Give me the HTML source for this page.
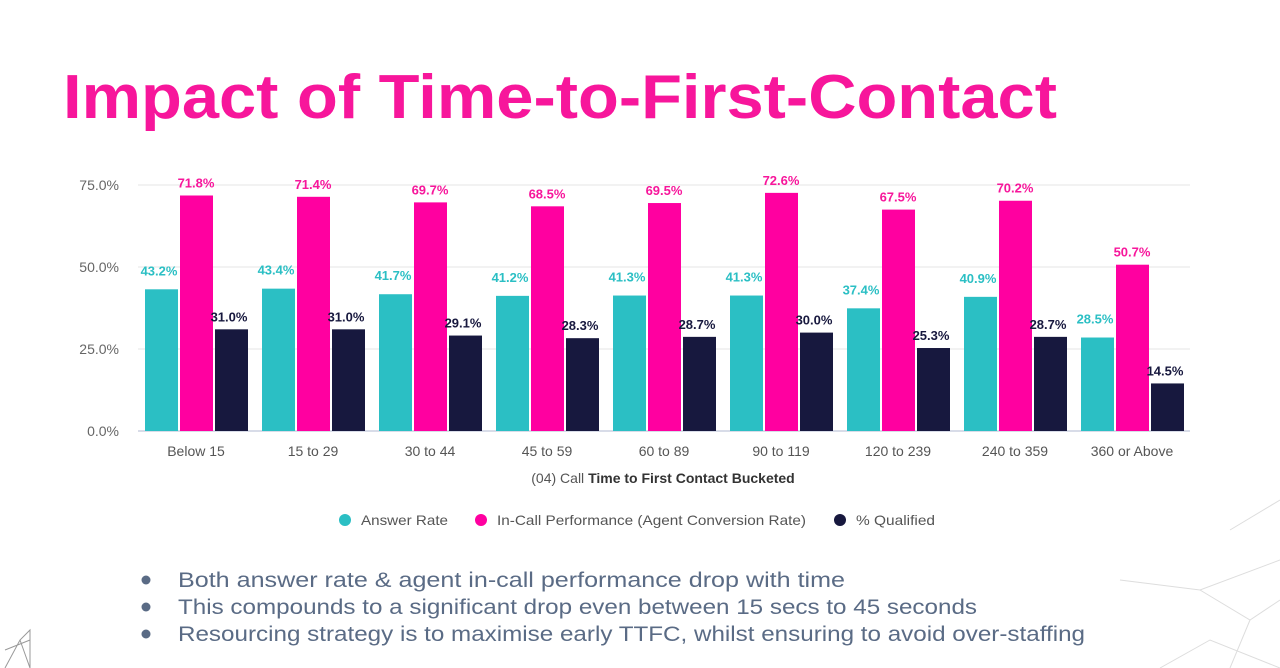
<!DOCTYPE html>
<html><head><meta charset="utf-8"><style>
html,body{margin:0;padding:0;background:#fff;}
svg{display:block;font-family:"Liberation Sans",sans-serif;}
</style></head><body>
<svg id="c" width="1280" height="668" viewBox="0 0 1280 668">
<g stroke="#ddd" fill="none" stroke-width="1">
<path d="M1120 580 L1200 590 L1280 560 M1200 590 L1250 620 L1280 600 M1160 668 L1210 640 L1280 668 M1250 620 L1230 668 M1230 530 L1280 500"/>
<path d="M5 668 L20 640 L30 630 L30 668 M20 640 L30 668 M5 650 L30 640" stroke="#999"/>
</g>
<text x="63" y="118" fill="#f7169b" font-size="62" font-weight="bold" textLength="994" lengthAdjust="spacingAndGlyphs">Impact of Time-to-First-Contact</text>
<g id="plot"></g>
<text x="663" y="483" text-anchor="middle" font-size="14" fill="#555">(04) Call <tspan font-weight="bold" fill="#333">Time to First Contact Bucketed</tspan></text>
<g font-size="14" fill="#555">
<g><circle cx="345" cy="520" r="6" fill="#2bbfc4"/><text x="361" y="525" textLength="87" lengthAdjust="spacingAndGlyphs">Answer Rate</text></g>
<g><circle cx="481" cy="520" r="6" fill="#ff00a0"/><text x="497" y="525" textLength="309" lengthAdjust="spacingAndGlyphs">In-Call Performance (Agent Conversion Rate)</text></g>
<g><circle cx="840" cy="520" r="6" fill="#17183e"/><text x="856" y="525" textLength="79" lengthAdjust="spacingAndGlyphs">% Qualified</text></g>
</g>
<g font-size="21" fill="#5a6b85">
<circle cx="146" cy="580" r="4.5"/><text x="178" y="587" textLength="667" lengthAdjust="spacingAndGlyphs">Both answer rate &amp; agent in-call performance drop with time</text>
<circle cx="146" cy="607" r="4.5"/><text x="178" y="614" textLength="799" lengthAdjust="spacingAndGlyphs">This compounds to a significant drop even between 15 secs to 45 seconds</text>
<circle cx="146" cy="634" r="4.5"/><text x="178" y="641" textLength="907" lengthAdjust="spacingAndGlyphs">Resourcing strategy is to maximise early TTFC, whilst ensuring to avoid over-staffing</text>
</g>
</svg>
<script>
const categories=["Below 15","15 to 29","30 to 44","45 to 59","60 to 89","90 to 119","120 to 239","240 to 359","360 or Above"];
const answerRate=[43.2,43.4,41.7,41.2,41.3,41.3,37.4,40.9,28.5];
const inCall=[71.8,71.4,69.7,68.5,69.5,72.6,67.5,70.2,50.7];
const qualified=[31.0,31.0,29.1,28.3,28.7,30.0,25.3,28.7,14.5];
const yTicks=[0,25,50,75];
const NS="http://www.w3.org/2000/svg";
const g=document.getElementById('plot');
const y0=431,pxPer=3.28;
const yS=v=>y0-v*pxPer;
const xC=i=>196+i*117;
function mk(t,a,p){const e=document.createElementNS(NS,t);for(const k in a)e.setAttribute(k,a[k]);(p||g).appendChild(e);return e;}
yTicks.forEach(t=>{
  const l=mk('line',{x1:138,x2:1190,y1:yS(t),y2:yS(t),stroke:t===0?'#d8dce8':'#eee','stroke-width':t===0?2:1.5});
  
  
  const tx=mk('text',{x:119,y:yS(t)+5,'text-anchor':'end','font-size':14,fill:'#666'});
  tx.textContent=t.toFixed(1)+'%';
  
  
});
const series=[[answerRate,'#2bbfc4','#2bbfc4','answer-rate'],[inCall,'#ff00a0','#f7169b','in-call'],[qualified,'#17183e','#17183e','qualified']];
categories.forEach((c,i)=>{
  series.forEach((s,j)=>{
    const v=s[0][i];const bx=xC(i)-51+j*35;
    const r=mk('rect',{x:bx,y:yS(v),width:33,height:v*pxPer,fill:s[1]});
    
    
    const t=mk('text',{x:j===1?bx+16:bx+14,y:yS(v)-(j===0?14:8),'text-anchor':'middle','font-size':13,'font-weight':'bold',fill:s[2]});
    t.textContent=v.toFixed(1)+'%';
    
    
  });
  const xl=mk('text',{x:xC(i),y:456,'text-anchor':'middle','font-size':14,fill:'#555'});
  xl.textContent=c;
  
  
});
</script>
</body></html>
